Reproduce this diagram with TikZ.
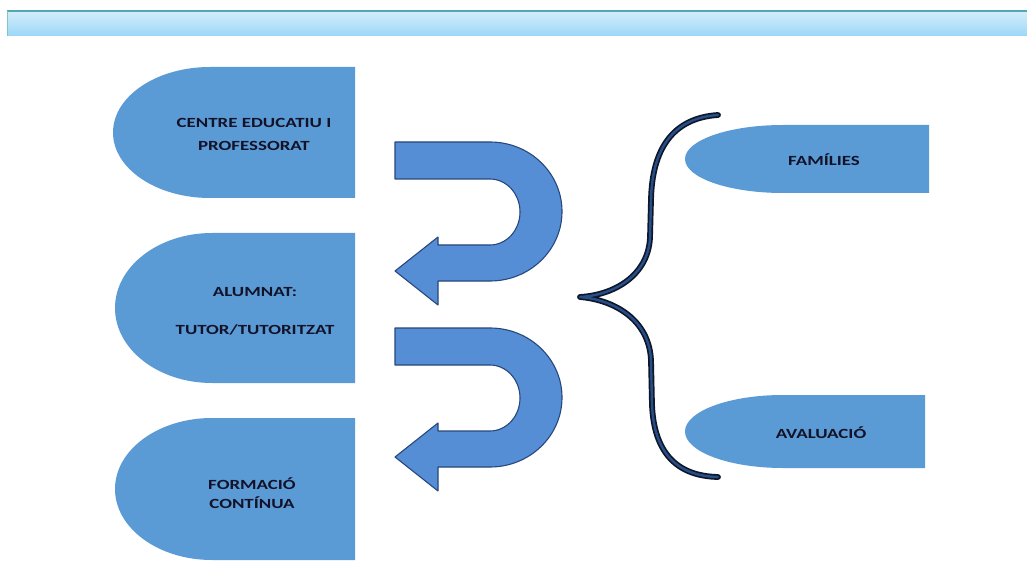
\documentclass[tikz,border=0pt]{standalone}
\usepackage{fontspec}
\usepackage{tikz}
\usetikzlibrary{calc,positioning}
\newfontfamily\boxfont[FakeStretch=1.35]{Carlito}
\definecolor{shapeblue}{RGB}{91,155,213}
\definecolor{arrowblue}{RGB}{85,142,213}
\definecolor{arrowedge}{RGB}{40,72,125}
\definecolor{bracedark}{RGB}{14,22,42}
\definecolor{bracemid}{RGB}{40,78,135}
\definecolor{textdark}{RGB}{18,18,40}
\definecolor{barlight}{RGB}{212,237,252}
\definecolor{bardark}{RGB}{156,215,247}
\definecolor{barline}{RGB}{80,170,175}
\tikzset{
  dshape/.style={fill=shapeblue, draw=none},
  uturn/.style={fill=arrowblue, draw=arrowedge, line width=1.1pt, line join=round},
  brace/.style={draw=bracedark, line width=1.7pt, double=bracemid, double distance=2.4pt,
    line cap=round, line join=round},
  label/.style={font=\boxfont\bfseries\fontsize{14}{16}\selectfont, text=textdark, align=center, inner sep=0pt}
}
% rectangle with an elliptic left end: arc centre x, right x, top y, bottom y, x radius
\newcommand{\dbox}[5]{%
  \path[dshape] (#1,#3) -- (#2,#3) -- (#2,#4) -- (#1,#4)
    arc[start angle=90, end angle=270, x radius=#5, y radius={(#4-#3)/2}] -- cycle;}
% u-turn arrow, outline
\newcommand{\uturnpath}{(395,142) -- (490,142)
    arc[start angle=-90, end angle=90, x radius=72, y radius=69.5]
    -- (438,281) -- (438,305) -- (395,271) -- (438,237) -- (438,245) -- (490,245)
    arc[start angle=90, end angle=-90, x radius=30, y radius=33]
    -- (395,179) -- cycle}

\begin{document}
\begin{tikzpicture}[x=1pt, y=-1pt]
  \useasboundingbox[fill=white] (0,0) rectangle (1027,577);

  % title bar
  \shade[top color=barlight, bottom color=bardark] (7,11) rectangle (1027,36);
  \draw[barline, line width=1.6pt] (7,11) -- (1027,11);
  \draw[barline!70, line width=0.8pt] (7,11) -- (7,36);

  % left column
  \dbox{210}{355}{67}{198}{97}
  \dbox{212}{355}{233}{383}{97}
  \dbox{212}{355}{418}{560}{97}
  \node[label] (centre) at (254,134) {CENTRE EDUCATIU I\\[7pt]PROFESSORAT};
  \node[label] (alumnat) at (255,311) {ALUMNAT:\\[22pt]TUTOR/TUTORITZAT};
  \node[label] (formacio) at (252,493) {FORMACIÓ\\[3pt]CONTÍNUA};

  % turning arrows
  \draw[uturn] \uturnpath;
  \draw[uturn, shift={(0,186)}] \uturnpath;

  % brace
  \coordinate (bracetop) at (718,115);
  \coordinate (bracetip) at (580,297);
  \coordinate (bracebot) at (718,477);
  \draw[brace] (bracetop) .. controls (672,118) and (652,150) .. (651,200)
    -- (650,238) .. controls (648,275) and (615,295) .. (bracetip)
    .. controls (615,300) and (649,320) .. (651,360)
    -- (652,405) .. controls (654,452) and (676,476) .. (bracebot);

  % right column
  \dbox{783}{929}{125}{193}{98}
  \dbox{783}{925}{395}{468}{98}
  \node[label] (families) at (824,160) {FAMÍLIES};
  \node[label] (avaluacio) at (821,433) {AVALUACIÓ};
\end{tikzpicture}
\end{document}
